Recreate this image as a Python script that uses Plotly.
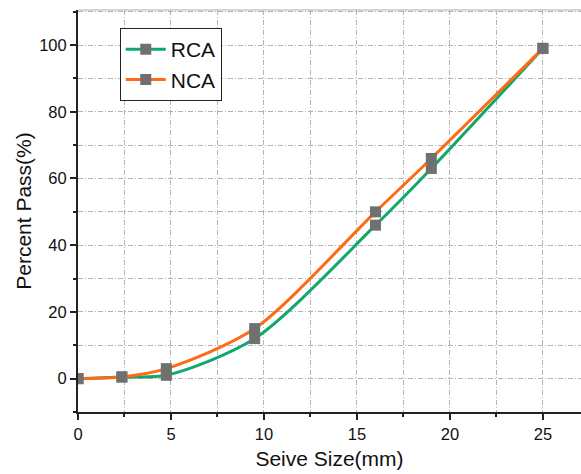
import plotly.graph_objects as go

# Sieve sizes (mm) and cumulative percent passing
sieve_mm = [0, 2.36, 4.75, 9.5, 16, 19, 25]
rca_pass = [0, 0.5, 1, 12, 46, 63, 99]
nca_pass = [0, 0.5, 3, 15, 50, 66, 99]

x_ticks = [0, 5, 10, 15, 20, 25]
y_ticks = [0, 20, 40, 60, 80, 100]

GREEN = "#12a86c"
ORANGE = "#ff6a14"
MARKER = "#707070"
GRID = "#b4b4b4"
FONT = "Arial, Liberation Sans"

fig = go.Figure()
for name, vals, color in [("RCA", rca_pass, GREEN), ("NCA", nca_pass, ORANGE)]:
    fig.add_trace(go.Scatter(
        x=sieve_mm, y=vals, name=name, mode="lines+markers",
        line=dict(color=color, width=3, shape="spline", smoothing=0.8),
        marker=dict(symbol="square", size=11, color=MARKER),
    ))

axis_common = dict(
    showline=True, linecolor="#222222", linewidth=2,
    ticks="outside", ticklen=6, tickwidth=1.5, tickcolor="#222222",
    showgrid=True, gridcolor=GRID, gridwidth=1, griddash="5px,2px,1px,2px",
    zeroline=False,
    tickfont=dict(family=FONT, size=16.5, color="#111111"),
    title_font=dict(family=FONT, size=21, color="#111111"),
)

fig.update_xaxes(
    range=[0, 27.05], tickvals=x_ticks, title_text="Seive Size(mm)",
    title_standoff=10,
    minor=dict(dtick=2.5, tick0=0, ticks="outside", ticklen=3, tickcolor="#222222",
               showgrid=True, gridcolor=GRID, griddash="5px,2px,1px,2px"),
    **axis_common,
)
fig.update_yaxes(
    range=[-10, 110.5], tickvals=y_ticks, title_text="Percent Pass(%)",
    title_standoff=2,
    minor=dict(dtick=10, tick0=0, ticks="outside", ticklen=3, tickcolor="#222222",
               showgrid=True, gridcolor=GRID, griddash="5px,2px,1px,2px"),
    **axis_common,
)

# light frame line along the top of the plotting area
fig.add_shape(type="line", xref="paper", yref="paper", x0=0, x1=1, y0=1, y1=1,
              line=dict(color="#c8c8c8", width=1.5))

fig.update_layout(
    width=581, height=474,
    margin=dict(l=78, r=0, t=10, b=62),
    plot_bgcolor="white", paper_bgcolor="white",
    legend=dict(
        x=0.083, y=0.955, xanchor="left", yanchor="top",
        bordercolor="#222222", borderwidth=1, bgcolor="white",
        font=dict(family=FONT, size=21, color="#111111"),
        itemwidth=40, tracegroupgap=0,
    ),
    showlegend=True,
)

fig.write_html("out.html")
